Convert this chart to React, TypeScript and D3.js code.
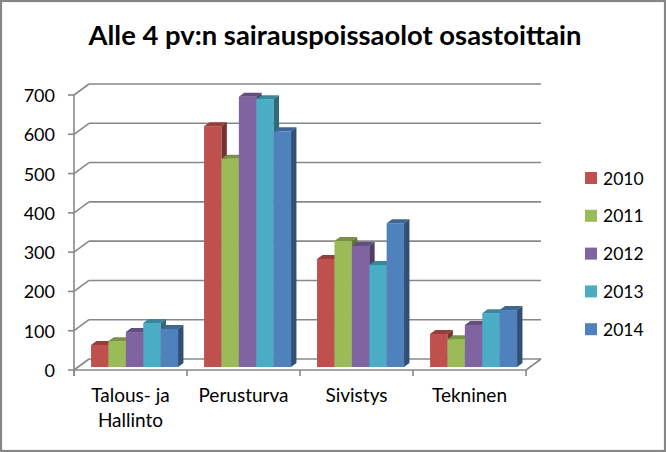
import React from "react";
import * as d3 from "d3";

const categories = ["Talous- ja Hallinto", "Perusturva", "Sivistys", "Tekninen"];
const seriesNames = ["2010", "2011", "2012", "2013", "2014"];
const values2010 = [56, 613, 275, 84];
const values2011 = [66, 530, 321, 71];
const values2012 = [89, 688, 308, 107];
const values2013 = [112, 682, 260, 137];
const values2014 = [97, 600, 366, 145];
const yTicks = [0, 100, 200, 300, 400, 500, 600, 700];
const colors = ["#C0504D", "#9BBB59", "#8064A2", "#4BACC6", "#4F81BD"];

const seriesValues = [values2010, values2011, values2012, values2013, values2014];

const W = 666;
const H = 452;
const FONT = "Lato, 'Open Sans', sans-serif";
const GRID = "#888888";

export default function App() {
  const x0 = 74;
  const x1 = 526;
  const yF = d3.scaleLinear().domain([0, 700]).range([370, 95]);
  const DX = 15;
  const DY = -11;
  const xBand = d3.scaleBand<string>().domain(categories).range([x0, x1]).paddingInner(0).paddingOuter(0);
  const xInner = d3.scaleBand<string>().domain(seriesNames).range([13, 100]).padding(0);
  const bFront = 0.27;
  const bBack = 0.63;

  const darker = (c: string, k: number) => {
    const rgb = d3.rgb(c);
    return d3.rgb(rgb.r * k, rgb.g * k, rgb.b * k).formatHex();
  };

  const bars: React.ReactNode[] = [];
  categories.forEach((cat, ci) => {
    seriesNames.forEach((s, si) => {
      const v = seriesValues[si][ci];
      const fx = (xBand(cat) as number) + (xInner(s) as number) + DX * bFront;
      const w = xInner.bandwidth();
      const yb = yF(0) + DY * bFront;
      const yt = yF(v) + DY * bFront;
      const ddx = DX * (bBack - bFront);
      const ddy = DY * (bBack - bFront);
      const c = colors[si];
      bars.push(
        <g key={cat + s}>
          <rect x={fx} y={yt} width={w} height={yb - yt} fill={c} />
          <path
            d={`M${fx},${yt}L${fx + ddx},${yt + ddy}L${fx + w + ddx},${yt + ddy}L${fx + w},${yt}Z`}
            fill={darker(c, 0.78)}
          />
          <path
            d={`M${fx + w},${yt}L${fx + w + ddx},${yt + ddy}L${fx + w + ddx},${yb + ddy}L${fx + w},${yb}Z`}
            fill={darker(c, 0.62)}
          />
        </g>
      );
    });
  });

  return (
    <svg
      width={W}
      height={H}
      style={{ position: "absolute", left: 0, top: 0, fontFamily: FONT }}
    >
      <rect x={1} y={1} width={W - 2} height={H - 2} fill="#fff" stroke="#868686" strokeWidth={2.2} />
      <text
        x={335}
        y={45}
        textAnchor="middle"
        fontSize={27}
        fontWeight={700}
        textLength={493}
        lengthAdjust="spacingAndGlyphs"
        fill="#000"
      >
        Alle 4 pv:n sairauspoissaolot osastoittain
      </text>

      {yTicks.map((t) => (
        <g key={t}>
          <line x1={x0} y1={yF(t)} x2={x0 + DX} y2={yF(t) + DY} stroke={GRID} strokeWidth={1.6} />
          <line x1={x0 + DX} y1={yF(t) + DY} x2={x1 + DX} y2={yF(t) + DY} stroke={GRID} strokeWidth={1.6} />
          <line x1={x0 - 6} y1={yF(t)} x2={x0} y2={yF(t)} stroke={GRID} strokeWidth={1.6} />
          <text x={55} y={yF(t) + 7} textAnchor="end" fontSize={18} fill="#000">
            {t}
          </text>
        </g>
      ))}
      <line x1={x0} y1={yF(0)} x2={x1} y2={yF(0)} stroke={GRID} strokeWidth={1.6} />
      <line x1={x1} y1={yF(0)} x2={x1 + DX} y2={yF(0) + DY} stroke={GRID} strokeWidth={1.6} />
      <line x1={x0} y1={yF(700)} x2={x0} y2={yF(0) + 6} stroke={GRID} strokeWidth={1.6} />
      {[...categories.map((c) => xBand(c) as number), x1].map((xx, i) => (
        <line key={i} x1={xx} y1={yF(0)} x2={xx} y2={yF(0) + 6} stroke={GRID} strokeWidth={1.6} />
      ))}

      {bars}

      {categories.map((cat) => {
        const cx = (xBand(cat) as number) + xBand.bandwidth() / 2;
        const parts = cat === "Talous- ja Hallinto" ? ["Talous- ja", "Hallinto"] : [cat];
        return (
          <text key={cat} x={cx} y={402} textAnchor="middle" fontSize={19} fill="#000">
            {parts.map((p, i) => (
              <tspan key={i} x={cx} dy={i === 0 ? 0 : 24.5}>
                {p}
              </tspan>
            ))}
          </text>
        );
      })}

      {seriesNames.map((s, i) => {
        const y = 172 + i * 37.8;
        return (
          <g key={s}>
            <rect x={585} y={y} width={12} height={12} fill={colors[i]} />
            <text x={603} y={y + 12.5} fontSize={17.5} fill="#000">
              {s}
            </text>
          </g>
        );
      })}
    </svg>
  );
}
